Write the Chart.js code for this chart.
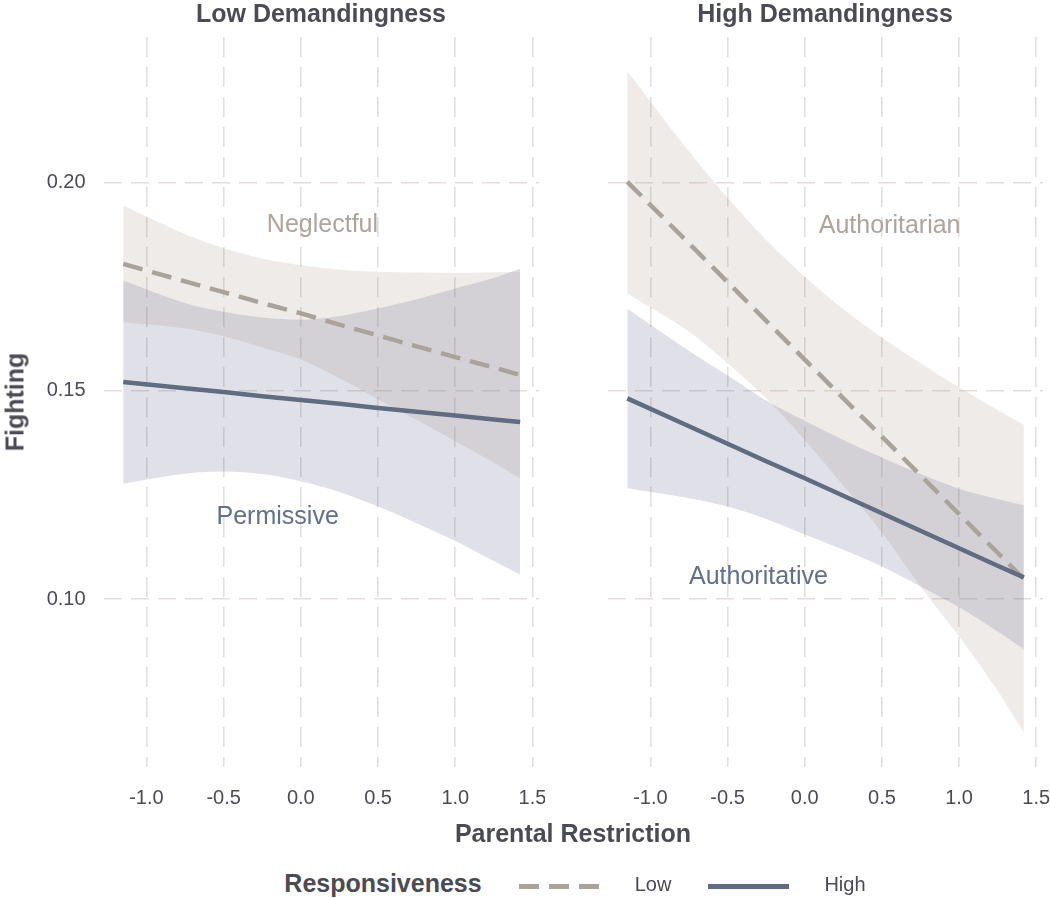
<!DOCTYPE html>
<html>
<head>
<meta charset="utf-8">
<script src="https://cdn.jsdelivr.net/npm/chart.js@4"></script>
<style>
  body { margin: 0; background: #fff; }
  #wrap { position: relative; width: 1050px; height: 898px; font-family: "Liberation Sans", Arial, sans-serif; color: #4b4b55; }
  canvas { position: absolute; top: 0; }
  .lbl { position: absolute; white-space: nowrap; transform: translate(-50%, -50%); }
  .bold { font-weight: bold; font-size: 25px; }
</style>
</head>
<body>
<div id="wrap">
  <canvas id="leftChart" width="545" height="820" style="left:0"></canvas>
  <canvas id="rightChart" width="505" height="820" style="left:545px"></canvas>

  <div class="lbl bold" style="left:321px; top:13px">Low Demandingness</div>
  <div class="lbl bold" style="left:825px; top:13px">High Demandingness</div>
  <div class="lbl bold" style="left:15px; top:402px; transform: translate(-50%, -50%) rotate(-90deg)">Fighting</div>
  <div class="lbl bold" style="left:573px; top:833px">Parental Restriction</div>

  <div class="lbl bold" style="left:383px; top:883px">Responsiveness</div>
  <div style="position:absolute; left:519px; top:884px; width:81px; height:5px;
       background: repeating-linear-gradient(90deg, #aaa39c 0 20px, transparent 20px 30px);"></div>
  <div class="lbl" style="left:653px; top:884px; font-size:20px">Low</div>
  <div style="position:absolute; left:708px; top:884px; width:81px; height:5px; background:#5f6c82"></div>
  <div class="lbl" style="left:845px; top:884px; font-size:20px">High</div>
</div>

<script>
// x positions (Parental Restriction) where the curves were read
const xs = [-1.15, -0.75, -0.5, -0.25, 0, 0.25, 0.5, 0.75, 1.0, 1.25, 1.42];

// Low Demandingness panel
const lowDemLowResp  = [0.1805, 0.1763, 0.1737, 0.1711, 0.1686, 0.1659, 0.1633, 0.1607, 0.1581, 0.1556, 0.1538];
const lowDemLowUpper = [0.1945, 0.1877, 0.1843, 0.1818, 0.1802, 0.1791, 0.1786, 0.1784, 0.1783, 0.1785, 0.1786];
const lowDemLowLower = [0.1665, 0.1650, 0.1631, 0.1604, 0.1575, 0.1530, 0.1480, 0.1430, 0.1379, 0.1327, 0.1290];
const lowDemHighResp  = [0.1521, 0.1506, 0.1497, 0.1487, 0.1478, 0.1469, 0.1459, 0.1450, 0.1441, 0.1431, 0.1425];
const lowDemHighUpper = [0.1765, 0.1711, 0.1690, 0.1676, 0.1671, 0.1680, 0.1698, 0.1720, 0.1746, 0.1771, 0.1793];
const lowDemHighLower = [0.1277, 0.1301, 0.1306, 0.1300, 0.1283, 0.1257, 0.1222, 0.1182, 0.1139, 0.1091, 0.1059];

// High Demandingness panel
const highDemLowResp  = [0.2002, 0.1854, 0.1761, 0.1668, 0.1575, 0.1482, 0.1390, 0.1297, 0.1204, 0.1111, 0.1048];
const highDemLowUpper = [0.2268, 0.2075, 0.1964, 0.1863, 0.1774, 0.1696, 0.1628, 0.1566, 0.1508, 0.1454, 0.1418];
const highDemLowLower = [0.1734, 0.1642, 0.1566, 0.1482, 0.1382, 0.1272, 0.1160, 0.1030, 0.0910, 0.0780, 0.0678];
const highDemHighResp  = [0.1482, 0.1415, 0.1373, 0.1331, 0.1290, 0.1248, 0.1206, 0.1164, 0.1122, 0.1080, 0.1052];
const highDemHighUpper = [0.1697, 0.1596, 0.1537, 0.1477, 0.1428, 0.1382, 0.1340, 0.1300, 0.1265, 0.1240, 0.1225];
const highDemHighLower = [0.1266, 0.1242, 0.1222, 0.1192, 0.1155, 0.1118, 0.1078, 0.1030, 0.0980, 0.0922, 0.0879];

const xTicks = [-1.0, -0.5, 0.0, 0.5, 1.0, 1.5];
const yTicks = [0.10, 0.15, 0.20];

// parenting style labels inside panels
const lowDemStyles = ['Neglectful', 'Permissive'];
const lowDemStyleX = [0.14, -0.15];
const lowDemStyleY = [0.1898, 0.1196];
const highDemStyles = ['Authoritarian', 'Authoritative'];
const highDemStyleX = [0.55, -0.30];
const highDemStyleY = [0.1896, 0.1053];

const colors = {
    lowLine: '#aaa39c',
    highLine: '#5f6c82',
    lowBand: 'rgba(175, 155, 140, 0.2)',
    highBand: 'rgba(100, 105, 140, 0.2)',
    lowText: '#aea49c',
    highText: '#63708a',
    grid: '#e3dedb',
    tick: '#4b4b55'
};

const pts = ys => ys.map((y, i) => ({ x: xs[i], y: y }));

function band(ys, color, fill, order) {
    return {
        data: pts(ys),
        borderWidth: 0,
        borderColor: 'rgba(0,0,0,0)',
        backgroundColor: color,
        fill: fill,
        pointRadius: 0,
        cubicInterpolationMode: 'monotone',
        order: order
    };
}

function textPlugin(names, lx, ly) {
    return {
        id: 'styleText',
        afterDatasetsDraw(chart) {
            const { ctx, scales } = chart;
            ctx.save();
            ctx.font = '25px "Liberation Sans", Arial, sans-serif';
            ctx.textAlign = 'center';
            ctx.textBaseline = 'middle';
            names.forEach((t, i) => {
                ctx.fillStyle = i === 0 ? colors.lowText : colors.highText;
                ctx.fillText(t, scales.x.getPixelForValue(lx[i]), scales.y.getPixelForValue(ly[i]));
            });
            ctx.restore();
        }
    };
}

function makeChart(id, s, showY, yWidth, padRight, names, lx, ly) {
    return new Chart(document.getElementById(id), {
        type: 'line',
        data: {
            datasets: [
                band(s.lowUpper, colors.lowBand, '+1', 4),
                band(s.lowLower, colors.lowBand, false, 4),
                band(s.highUpper, colors.highBand, '+1', 3),
                band(s.highLower, colors.highBand, false, 3),
                {
                    data: pts(s.low),
                    borderColor: colors.lowLine,
                    borderWidth: 4.5,
                    borderDash: [20, 10],
                    pointRadius: 0,
                    fill: false,
                    order: 1
                },
                {
                    data: pts(s.high),
                    borderColor: colors.highLine,
                    borderWidth: 4.5,
                    pointRadius: 0,
                    fill: false,
                    order: 0
                }
            ]
        },
        options: {
            responsive: false,
            animation: false,
            layout: { padding: { top: 37, right: padRight, left: 0, bottom: 0 } },
            plugins: { legend: { display: false }, tooltip: { enabled: false } },
            scales: {
                x: {
                    type: 'linear',
                    min: -1.277,
                    max: 1.544,
                    afterBuildTicks: sc => { sc.ticks = xTicks.map(v => ({ value: v })); },
                    afterFit: sc => { sc.height = 53; sc.paddingLeft = 0; sc.paddingRight = 0; },
                    grid: { color: colors.grid, lineWidth: 1.6, drawTicks: false },
                    border: { display: false, dash: [20, 10] },
                    ticks: {
                        padding: 19,
                        maxRotation: 0,
                        color: colors.tick,
                        font: { size: 20, family: '"Liberation Sans", Arial, sans-serif' },
                        callback: v => v.toFixed(1)
                    }
                },
                y: {
                    min: 0.05964,
                    max: 0.235,
                    afterBuildTicks: sc => { sc.ticks = yTicks.map(v => ({ value: v })); },
                    afterFit: sc => { sc.width = yWidth; sc.paddingTop = 0; sc.paddingBottom = 0; },
                    grid: { color: colors.grid, lineWidth: 1.6, drawTicks: false },
                    border: { display: false, dash: [18, 9] },
                    ticks: {
                        display: showY,
                        padding: 18,
                        color: colors.tick,
                        font: { size: 20, family: '"Liberation Sans", Arial, sans-serif' },
                        callback: v => v.toFixed(2)
                    }
                }
            }
        },
        plugins: [textPlugin(names, lx, ly)]
    });
}

makeChart('leftChart', {
    low: lowDemLowResp, lowUpper: lowDemLowUpper, lowLower: lowDemLowLower,
    high: lowDemHighResp, highUpper: lowDemHighUpper, highLower: lowDemHighLower
}, true, 103.6, 5.7, lowDemStyles, lowDemStyleX, lowDemStyleY);

makeChart('rightChart', {
    low: highDemLowResp, lowUpper: highDemLowUpper, lowLower: highDemLowLower,
    high: highDemHighResp, highUpper: highDemHighUpper, highLower: highDemHighLower
}, false, 62.7, 7, highDemStyles, highDemStyleX, highDemStyleY);
</script>
</body>
</html>
